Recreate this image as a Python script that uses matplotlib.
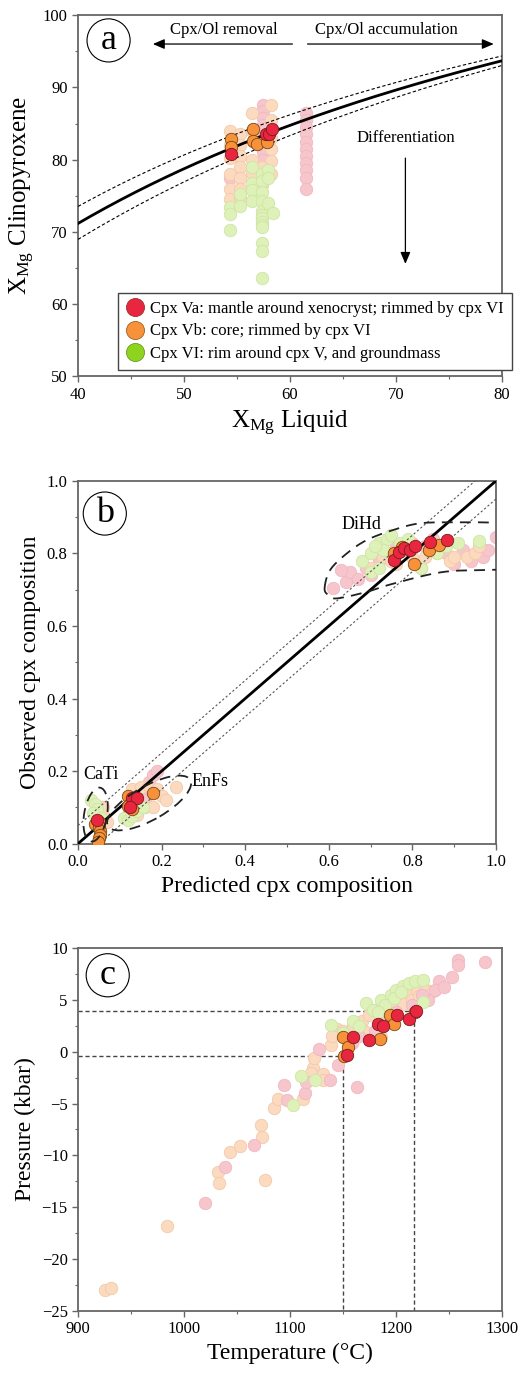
import numpy as np
import matplotlib
matplotlib.use('Agg')
import matplotlib.pyplot as plt
from matplotlib.patches import Ellipse
from matplotlib.lines import Line2D
from matplotlib.ticker import MultipleLocator, FormatStrFormatter

plt.rcParams['font.family'] = ['Liberation Serif', 'DejaVu Serif']
plt.rcParams['mathtext.fontset'] = 'custom'
plt.rcParams['mathtext.rm'] = 'Liberation Serif'
plt.rcParams['mathtext.it'] = 'Liberation Serif:italic'

# colours
PINK, PINK_E = '#F7C6CD', '#F0B8C0'
PEACH, PEACH_E = '#FBDAC0', '#F2CAA9'
LGREEN, LGREEN_E = '#DEF1B8', '#CFE5A5'
RED, RED_E = '#E8263F', '#7A1A1A'
ORANGE, ORANGE_E = '#F7923A', '#7A4612'
GREEN, GREEN_E = '#8ED41F', '#6A9A20'

# ---------------- panel a data (XMg liquid, XMg cpx) ----------------
a_pink_x = [61.5, 61.5, 61.5, 61.5, 61.5, 61.5, 61.5, 61.5, 61.5, 61.5, 61.5,
            57.5, 57.5, 57.5, 57.5, 57.5, 57.5, 57.5, 57.5, 54.3]
a_pink_y = [86.5, 85.5, 84.5, 83.5, 82.5, 81.5, 80.5, 79.5, 78.5, 77.5, 76.0,
            87.5, 86.8, 85.8, 84.8, 83.2, 82.0, 81.0, 80.0, 77.5]
a_peach_x = [54.3, 54.3, 54.3, 54.3, 54.3, 54.3,
             55.3, 55.3, 55.3, 55.3, 55.3, 55.3, 55.3,
             56.4, 56.4, 56.4, 56.4,
             58.2, 58.2, 58.2, 58.2, 58.2, 58.2,
             57.4, 57.4, 57.4]
a_peach_y = [84.0, 82.0, 80.2, 78.0, 76.0, 74.5,
             83.5, 82.0, 80.5, 79.0, 77.5, 76.0, 74.8,
             86.5, 84.0, 80.0, 78.2,
             87.5, 85.5, 83.0, 81.5, 79.8, 78.0,
             79.0, 76.5, 72.0]
a_green_x = [54.3, 54.3, 54.3, 55.3, 55.3,
             56.4, 56.4, 56.4, 56.4,
             57.4, 57.4, 57.4, 57.4, 57.4, 57.4, 57.4, 57.4, 57.4, 57.4, 57.4, 57.4, 57.4,
             57.9, 57.9, 57.9, 58.4]
a_green_y = [73.5, 72.5, 70.3, 75.3, 73.6,
             79.0, 76.8, 75.8, 74.3,
             78.0, 77.0, 75.5, 74.3, 72.9, 72.3, 71.9, 71.4, 71.0, 70.7, 68.5, 67.4, 63.6,
             78.5, 77.5, 74.0, 72.6]
a_orange_x = [54.4, 54.4, 56.5, 56.5, 56.9, 57.8]
a_orange_y = [82.8, 81.8, 84.3, 82.6, 82.2, 82.4]
a_red_x = [54.4, 57.7, 58.0, 58.3]
a_red_y = [80.8, 83.5, 83.6, 84.2]

# ---------------- panel b data (predicted, observed) ----------------
b_pink_x = [0.61, 0.64, 0.65, 0.67, 0.69, 0.72, 0.74, 0.76, 0.80, 0.83, 0.85, 0.88,
            0.92, 0.94, 0.97, 0.98, 1.00, 0.90, 0.70, 0.63,
            0.15, 0.17, 0.18, 0.19, 0.16, 0.14, 0.12]
b_pink_y = [0.705, 0.72, 0.75, 0.73, 0.76, 0.78, 0.80, 0.82, 0.83, 0.82, 0.84, 0.80,
            0.81, 0.78, 0.79, 0.81, 0.845, 0.77, 0.74, 0.755,
            0.14, 0.17, 0.19, 0.20, 0.12, 0.10, 0.08]
b_peach_x = [0.70, 0.73, 0.76, 0.80, 0.83, 0.86, 0.89, 0.90, 0.93, 0.95, 0.96, 0.82,
             0.78, 0.75,
             0.13, 0.15, 0.17, 0.19, 0.20, 0.21, 0.16, 0.18, 0.235, 0.14, 0.06, 0.07, 0.06]
b_peach_y = [0.76, 0.79, 0.77, 0.79, 0.79, 0.80, 0.78, 0.79, 0.79, 0.80, 0.82, 0.76,
             0.81, 0.78,
             0.15, 0.155, 0.16, 0.15, 0.13, 0.12, 0.10, 0.10, 0.155, 0.08, 0.08, 0.06, 0.10]
b_green_x = [0.68, 0.70, 0.72, 0.74, 0.73, 0.75, 0.77, 0.70, 0.72, 0.84, 0.86, 0.88,
             0.91, 0.96, 0.82, 0.79, 0.71,
             0.11, 0.12, 0.13, 0.14, 0.155, 0.03, 0.04, 0.045, 0.035, 0.055]
b_green_y = [0.78, 0.80, 0.83, 0.84, 0.81, 0.85, 0.83, 0.75, 0.76, 0.81, 0.80, 0.82,
             0.83, 0.835, 0.76, 0.84, 0.82,
             0.07, 0.065, 0.075, 0.09, 0.10, 0.12, 0.11, 0.095, 0.085, 0.07]
b_orange_x = [0.755, 0.775, 0.805, 0.84, 0.864,
              0.04, 0.05, 0.05, 0.052, 0.053, 0.05, 0.048,
              0.12, 0.125, 0.13, 0.12, 0.18]
b_orange_y = [0.80, 0.818, 0.77, 0.81, 0.823,
              0.055, 0.06, 0.045, 0.035, 0.025, 0.015, 0.005,
              0.13, 0.11, 0.095, 0.105, 0.14]
b_red_x = [0.757, 0.767, 0.78, 0.795, 0.807, 0.843, 0.883, 0.045, 0.13, 0.14, 0.125]
b_red_y = [0.782, 0.805, 0.814, 0.81, 0.82, 0.832, 0.837, 0.065, 0.125, 0.125, 0.10]

# hand-drawn DiHd field outline (clockwise from left tip)
dihd_x = [0.59, 0.603, 0.643, 0.691, 0.755, 0.818, 0.90, 0.994, 1.06,
          1.06, 0.994, 0.874, 0.755, 0.691, 0.619, 0.598]
dihd_y = [0.705, 0.754, 0.80, 0.837, 0.865, 0.883, 0.886, 0.885, 0.88,
          0.76, 0.755, 0.749, 0.717, 0.694, 0.676, 0.686]

# ---------------- panel c data (T degC, P kbar) ----------------
c_peach_T = [925, 931, 984, 1032, 1033, 1043, 1053, 1073, 1074, 1076, 1085, 1089,
             1112, 1122, 1120, 1131, 1131, 1123, 1139, 1144, 1140, 1150, 1160, 1168,
             1175, 1180, 1190, 1200, 1205, 1212, 1220, 1228, 1235, 1186, 1170, 1208,
             1215, 1222]
c_peach_P = [-23.0, -22.8, -16.8, -11.6, -12.7, -9.7, -9.1, -7.1, -8.2, -12.4, -5.4, -4.6,
             -4.6, -1.6, -2.1, -2.2, -2.7, -0.6, 0.6, 2.2, 1.5, 2.0, 2.5, 3.0,
             3.5, 4.0, 4.2, 4.5, 5.0, 5.5, 5.8, 6.0, 5.9, 1.4, 2.0, 4.6,
             5.0, 5.4]
c_pink_T = [1020, 1039, 1066, 1097, 1094, 1114, 1115, 1138, 1127, 1145, 1163, 1159,
            1165, 1190, 1200, 1215, 1230, 1241, 1237, 1253, 1259, 1259, 1284, 1245,
            1225, 1180]
c_pink_P = [-14.6, -11.1, -9.0, -4.7, -3.2, -4.0, -2.9, -2.7, 0.3, -1.3, -3.4, 0.8,
            1.5, 3.0, 3.8, 4.5, 5.0, 6.8, 6.0, 7.2, 8.8, 8.4, 8.7, 6.2,
            5.5, 2.0]
c_green_T = [1103, 1110, 1124, 1139, 1172, 1160, 1150, 1178, 1186, 1195, 1200, 1207,
             1212, 1218, 1226, 1226, 1190, 1198, 1205, 1165, 1183]
c_green_P = [-5.1, -2.3, -2.7, 2.6, 4.7, 3.0, 1.8, 4.0, 5.0, 5.5, 6.0, 6.3,
             6.6, 6.8, 6.9, 4.8, 4.5, 5.2, 5.8, 2.5, 3.8]
c_orange_T = [1151, 1150, 1155, 1185, 1194, 1198, 1218]
c_orange_P = [-0.4, 1.45, 0.5, 1.2, 3.5, 2.7, 3.8]
c_red_T = [1154, 1160, 1175, 1183, 1188, 1201, 1212, 1219]
c_red_P = [-0.3, 1.45, 1.1, 2.7, 2.5, 3.5, 3.2, 3.9]

# cpx-liquid Fe-Mg exchange (Kd = 0.27 +/- 0.03)
KD = 0.27
KD_ERR = 0.03
T_REF = [1150, 1217]
P_REF = [-0.4, 3.95]

MS = 80


def bg_scatter(ax, x, y, c, ec):
    ax.scatter(x, y, s=MS, c=c, edgecolors=ec, linewidths=0.6, zorder=2)


def fg_scatter(ax, x, y, c, ec):
    ax.scatter(x, y, s=MS, c=c, edgecolors=ec, linewidths=0.6, zorder=5)


def closed_smooth(xs, ys, n=20):
    # Catmull-Rom through the outline points, closed
    p = np.column_stack([xs, ys])
    m = len(p)
    out = []
    for i in range(m):
        p0, p1, p2, p3 = p[i - 1], p[i], p[(i + 1) % m], p[(i + 2) % m]
        for t in np.linspace(0, 1, n, endpoint=False):
            t2, t3 = t * t, t * t * t
            out.append(0.5 * ((2 * p1) + (-p0 + p2) * t + (2 * p0 - 5 * p1 + 4 * p2 - p3) * t2
                              + (-p0 + 3 * p1 - 3 * p2 + p3) * t3))
    out.append(out[0])
    out = np.array(out)
    return out[:, 0], out[:, 1]


def style_axes(ax):
    for sp in ax.spines.values():
        sp.set_color('#666666')
        sp.set_linewidth(1.3)
    ax.tick_params(which='both', direction='out', top=False, right=False,
                   color='#666666', labelsize=12)
    ax.tick_params(which='major', length=4, width=1.0)
    ax.tick_params(which='minor', length=2.5, width=0.8)


def panel_letter(ax, letter, x, y):
    ax.text(x, y, letter, transform=ax.transAxes, fontsize=26, ha='center', va='center',
            bbox=dict(boxstyle='circle,pad=0.14', fc='white', ec='black', lw=0.8), zorder=10)


fig = plt.figure(figsize=(5.31, 13.74), dpi=100)

# ================= panel a =================
ax1 = fig.add_axes([0.147, 0.726, 0.798, 0.263])
xl = np.linspace(40, 80, 200)
for kd, ls, lw in [(KD, '-', 2.0), (KD - KD_ERR, (0, (3, 2)), 0.8), (KD + KD_ERR, (0, (3, 2)), 0.8)]:
    ax1.plot(xl, 100.0 / (1.0 + kd * (100.0 / xl - 1.0)), color='black', ls=ls, lw=lw, zorder=3)
bg_scatter(ax1, a_pink_x, a_pink_y, PINK, PINK_E)
bg_scatter(ax1, a_peach_x, a_peach_y, PEACH, PEACH_E)
bg_scatter(ax1, a_green_x, a_green_y, LGREEN, LGREEN_E)
fg_scatter(ax1, a_orange_x, a_orange_y, ORANGE, ORANGE_E)
fg_scatter(ax1, a_red_x, a_red_y, RED, RED_E)
ax1.set_xlim(40, 80)
ax1.set_ylim(50, 100)
ax1.xaxis.set_major_locator(MultipleLocator(10))
ax1.xaxis.set_minor_locator(MultipleLocator(5))
ax1.yaxis.set_major_locator(MultipleLocator(10))
ax1.yaxis.set_minor_locator(MultipleLocator(5))
ax1.set_xlabel(r'X$_{\mathrm{Mg}}$ Liquid', fontsize=18)
ax1.set_ylabel(r'X$_{\mathrm{Mg}}$ Clinopyroxene', fontsize=18)
style_axes(ax1)
panel_letter(ax1, 'a', 0.072, 0.93)

ax1.annotate('', xy=(46.8, 96.0), xytext=(60.5, 96.0),
             arrowprops=dict(arrowstyle='-|>,head_length=0.7,head_width=0.3', color='black', lw=0.9))
ax1.annotate('', xy=(79.5, 96.0), xytext=(61.4, 96.0),
             arrowprops=dict(arrowstyle='-|>,head_length=0.7,head_width=0.3', color='black', lw=0.9))
ax1.text(53.8, 98.0, 'Cpx/Ol removal', fontsize=12, ha='center', va='center')
ax1.text(69.1, 98.0, 'Cpx/Ol accumulation', fontsize=12, ha='center', va='center')
ax1.text(70.9, 83.0, 'Differentiation', fontsize=12, ha='center', va='center')
ax1.annotate('', xy=(70.9, 65.2), xytext=(70.9, 80.6),
             arrowprops=dict(arrowstyle='-|>,head_length=0.7,head_width=0.3', color='black', lw=0.9))

handles = [Line2D([], [], ls='', marker='o', ms=13, mfc=RED, mec='#A03030', mew=0.6),
           Line2D([], [], ls='', marker='o', ms=13, mfc=ORANGE, mec='#A06020', mew=0.6),
           Line2D([], [], ls='', marker='o', ms=13, mfc=GREEN, mec=GREEN_E, mew=0.6)]
labels = ['Cpx Va: mantle around xenocryst; rimmed by cpx VI',
          'Cpx Vb: core; rimmed by cpx VI',
          'Cpx VI: rim around cpx V, and groundmass']
leg = ax1.legend(handles, labels, loc='lower left', bbox_to_anchor=(0.094, 0.019),
                 fontsize=12, frameon=True, fancybox=False, framealpha=1,
                 edgecolor='#444444', handletextpad=0.3, borderpad=0.45,
                 labelspacing=0.4, handlelength=1.2, borderaxespad=0)
leg.get_frame().set_linewidth(1.0)
leg.set_zorder(20)

# ================= panel b =================
ax2 = fig.add_axes([0.147, 0.386, 0.787, 0.264])
xx = np.array([0.0, 1.0])
ax2.plot(xx, xx, color='black', lw=2.0, zorder=3)
ax2.plot(xx, xx + 0.05, color='#555555', lw=0.8, ls=(0, (2, 2)), zorder=3)
ax2.plot(xx, xx - 0.05, color='#555555', lw=0.8, ls=(0, (2, 2)), zorder=3)
bg_scatter(ax2, b_pink_x, b_pink_y, PINK, PINK_E)
bg_scatter(ax2, b_peach_x, b_peach_y, PEACH, PEACH_E)
bg_scatter(ax2, b_green_x, b_green_y, LGREEN, LGREEN_E)
fg_scatter(ax2, b_orange_x, b_orange_y, ORANGE, ORANGE_E)
fg_scatter(ax2, b_red_x, b_red_y, RED, RED_E)
sx, sy = closed_smooth(dihd_x, dihd_y)
ax2.plot(sx, sy, color='#222222', lw=1.3, ls=(0, (6, 4)), zorder=6)
for cen, w, h, ang in [((0.042, 0.08), 0.055, 0.15, -8), ((0.17, 0.112), 0.235, 0.09, 34)]:
    ax2.add_patch(Ellipse(cen, w, h, angle=ang, fill=False, ec='#222222', lw=1.3,
                          ls=(0, (6, 4)), zorder=6))
ax2.text(0.63, 0.88, 'DiHd', fontsize=13, ha='left', va='center')
ax2.text(0.012, 0.19, 'CaTi', fontsize=13, ha='left', va='center')
ax2.text(0.272, 0.17, 'EnFs', fontsize=13, ha='left', va='center')
ax2.set_xlim(0, 1)
ax2.set_ylim(0, 1)
ax2.xaxis.set_major_locator(MultipleLocator(0.2))
ax2.xaxis.set_minor_locator(MultipleLocator(0.1))
ax2.yaxis.set_major_locator(MultipleLocator(0.2))
ax2.yaxis.set_minor_locator(MultipleLocator(0.1))
ax2.xaxis.set_major_formatter(FormatStrFormatter('%.1f'))
ax2.yaxis.set_major_formatter(FormatStrFormatter('%.1f'))
ax2.set_xlabel('Predicted cpx composition', fontsize=17)
ax2.set_ylabel('Observed cpx composition', fontsize=17)
style_axes(ax2)
panel_letter(ax2, 'b', 0.064, 0.91)

# ================= panel c =================
ax3 = fig.add_axes([0.147, 0.046, 0.798, 0.264])
ax3.plot([900, T_REF[0], T_REF[0]], [P_REF[0], P_REF[0], -25], color='#444444', lw=1.0,
         ls=(0, (3, 2)), zorder=1)
ax3.plot([900, T_REF[1], T_REF[1]], [P_REF[1], P_REF[1], -25], color='#444444', lw=1.0,
         ls=(0, (3, 2)), zorder=1)
bg_scatter(ax3, c_peach_T, c_peach_P, PEACH, PEACH_E)
bg_scatter(ax3, c_pink_T, c_pink_P, PINK, PINK_E)
bg_scatter(ax3, c_green_T, c_green_P, LGREEN, LGREEN_E)
fg_scatter(ax3, c_orange_T, c_orange_P, ORANGE, ORANGE_E)
fg_scatter(ax3, c_red_T, c_red_P, RED, RED_E)
ax3.set_xlim(900, 1300)
ax3.set_ylim(-25, 10)
ax3.xaxis.set_major_locator(MultipleLocator(100))
ax3.xaxis.set_minor_locator(MultipleLocator(50))
ax3.yaxis.set_major_locator(MultipleLocator(5))
ax3.yaxis.set_minor_locator(MultipleLocator(2.5))
ax3.set_xlabel('Temperature (\u00b0C)', fontsize=17)
ax3.set_ylabel('Pressure (kbar)', fontsize=17)
style_axes(ax3)
panel_letter(ax3, 'c', 0.07, 0.925)

fig.savefig('out.png', dpi=100)
